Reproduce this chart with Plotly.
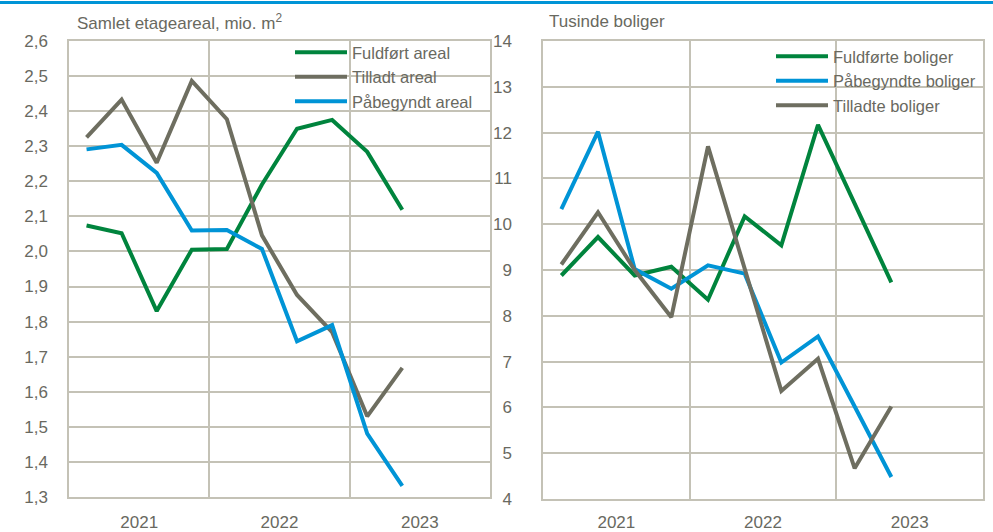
import plotly.graph_objects as go

# ---------------- data ----------------
quarters = ["2021K1", "2021K2", "2021K3", "2021K4",
            "2022K1", "2022K2", "2022K3", "2022K4",
            "2023K1", "2023K2", "2023K3", "2023K4"]
year_labels = ["2021", "2022", "2023"]

# Left panel: Samlet etageareal, mio. m2
fuldfoert_areal = [2.074, 2.052, 1.830, 2.005, 2.007, 2.191, 2.350, 2.375, 2.284, 2.119]
tilladt_areal = [2.325, 2.433, 2.253, 2.486, 2.377, 2.046, 1.876, 1.770, 1.530, 1.668]
paabegyndt_areal = [2.291, 2.304, 2.224, 2.060, 2.061, 2.007, 1.744, 1.790, 1.481, 1.332]

# Right panel: Tusinde boliger
fuldfoerte_boliger = [8.88, 9.72, 8.88, 9.07, 8.35, 10.17, 9.54, 12.17, 10.45, 8.73]
paabegyndte_boliger = [10.33, 12.02, 9.02, 8.59, 9.10, 8.92, 6.98, 7.55, 6.02, 4.48]
tilladte_boliger = [9.12, 10.26, 9.00, 7.97, 11.70, 9.00, 6.36, 7.06, 4.67, 6.02]

# ---------------- style ----------------
GREEN = "rgb(0,132,61)"
GREY = "rgb(110,110,96)"
BLUE = "rgb(0,148,214)"
TEXT = "rgb(105,105,95)"
GRID = "rgb(196,194,182)"
FONT = "Liberation Sans, Arial, sans-serif"
W, H = 993, 532

xi = list(range(len(quarters)))


def xs(vals):
    return xi[:len(vals)]


fig = go.Figure()

left = [("Fuldført areal", fuldfoert_areal, GREEN),
        ("Tilladt areal", tilladt_areal, GREY),
        ("Påbegyndt areal", paabegyndt_areal, BLUE)]
for name, vals, col in left:
    fig.add_trace(go.Scatter(x=xs(vals), y=vals, name=name, mode="lines",
                             line=dict(color=col, width=4), xaxis="x", yaxis="y",
                             legend="legend", hoverinfo="skip"))

right = [("Fuldførte boliger", fuldfoerte_boliger, GREEN),
         ("Påbegyndte boliger", paabegyndte_boliger, BLUE),
         ("Tilladte boliger", tilladte_boliger, GREY)]
for name, vals, col in right:
    fig.add_trace(go.Scatter(x=xs(vals), y=vals, name=name, mode="lines",
                             line=dict(color=col, width=4), xaxis="x2", yaxis="y2",
                             legend="legend2", hoverinfo="skip"))

n = len(quarters)
year_pos = [1.5 + 4 * i for i in range(len(year_labels))]


def xaxis(domain, anchor, standoff):
    return dict(domain=domain, anchor=anchor, range=[-0.5, n - 0.5],
                tickmode="array", tickvals=year_pos, ticktext=year_labels,
                showgrid=False, zeroline=False, ticks="",
                showline=True, mirror=True, linecolor=GRID, linewidth=1.5,
                ticklabelstandoff=standoff, automargin=False,
                tickfont=dict(family=FONT, size=17, color=TEXT),
                minor=dict(tickmode="linear", tick0=-0.5, dtick=4, showgrid=True,
                           gridcolor=GRID, gridwidth=1.5, ticks=""))


def yaxis(domain, anchor, rng, dtick, fmt, standoff):
    return dict(domain=domain, anchor=anchor, range=rng, dtick=dtick, tick0=rng[0],
                tickformat=fmt, showgrid=True, gridcolor=GRID, gridwidth=1.5,
                zeroline=False, ticks="", showline=True, mirror=True, automargin=False,
                linecolor=GRID, linewidth=1.5, ticklabelstandoff=standoff,
                tickfont=dict(family=FONT, size=17, color=TEXT))


fig.update_layout(
    width=W, height=H,
    margin=dict(l=0, r=0, t=0, b=0, pad=0, autoexpand=False),
    paper_bgcolor="white", plot_bgcolor="white",
    separators=",.",
    font=dict(family=FONT, size=17, color=TEXT),
    xaxis=xaxis([69 / W, 490 / W], "y", 9),
    yaxis=yaxis([1 - 497 / H, 1 - 41 / H], "x", [1.3, 2.6], 0.1, ".1f", 16),
    xaxis2=xaxis([543 / W, 983 / W], "y2", 7),
    yaxis2=yaxis([1 - 499 / H, 1 - 41 / H], "x2", [4, 14], 1, "d", 26),
    legend=dict(x=(352 - 62) / W, xanchor="left", y=1 - 35 / H, yanchor="top",
                bgcolor="rgba(0,0,0,0)", font=dict(family=FONT, size=16.5, color=TEXT),
                tracegroupgap=0, itemwidth=52),
    legend2=dict(x=(833 - 62) / W, xanchor="left", y=1 - 39 / H, yanchor="top",
                 bgcolor="rgba(0,0,0,0)", font=dict(family=FONT, size=16.5, color=TEXT),
                 tracegroupgap=0, itemwidth=52),
    showlegend=True,
)

# Panel titles
fig.add_annotation(text="Samlet etageareal, mio. m<sup>2</sup>", xref="paper", yref="paper",
                   x=75 / W, y=1 - 22 / H, xanchor="left", yanchor="middle",
                   showarrow=False, font=dict(family=FONT, size=17, color=TEXT))
fig.add_annotation(text="Tusinde boliger", xref="paper", yref="paper",
                   x=547 / W, y=1 - 22 / H, xanchor="left", yanchor="middle",
                   showarrow=False, font=dict(family=FONT, size=17, color=TEXT))

# Top blue rule
fig.add_shape(type="line", xref="paper", yref="paper", x0=0, x1=1,
              y0=1 - 2.5 / H, y1=1 - 2.5 / H, line=dict(color=BLUE, width=3))

# Remove the browser's default page margin so the figure sits at the window's corner
fig.write_html("out.html", config={"displayModeBar": False},
               post_script="document.body.style.margin='0';")
